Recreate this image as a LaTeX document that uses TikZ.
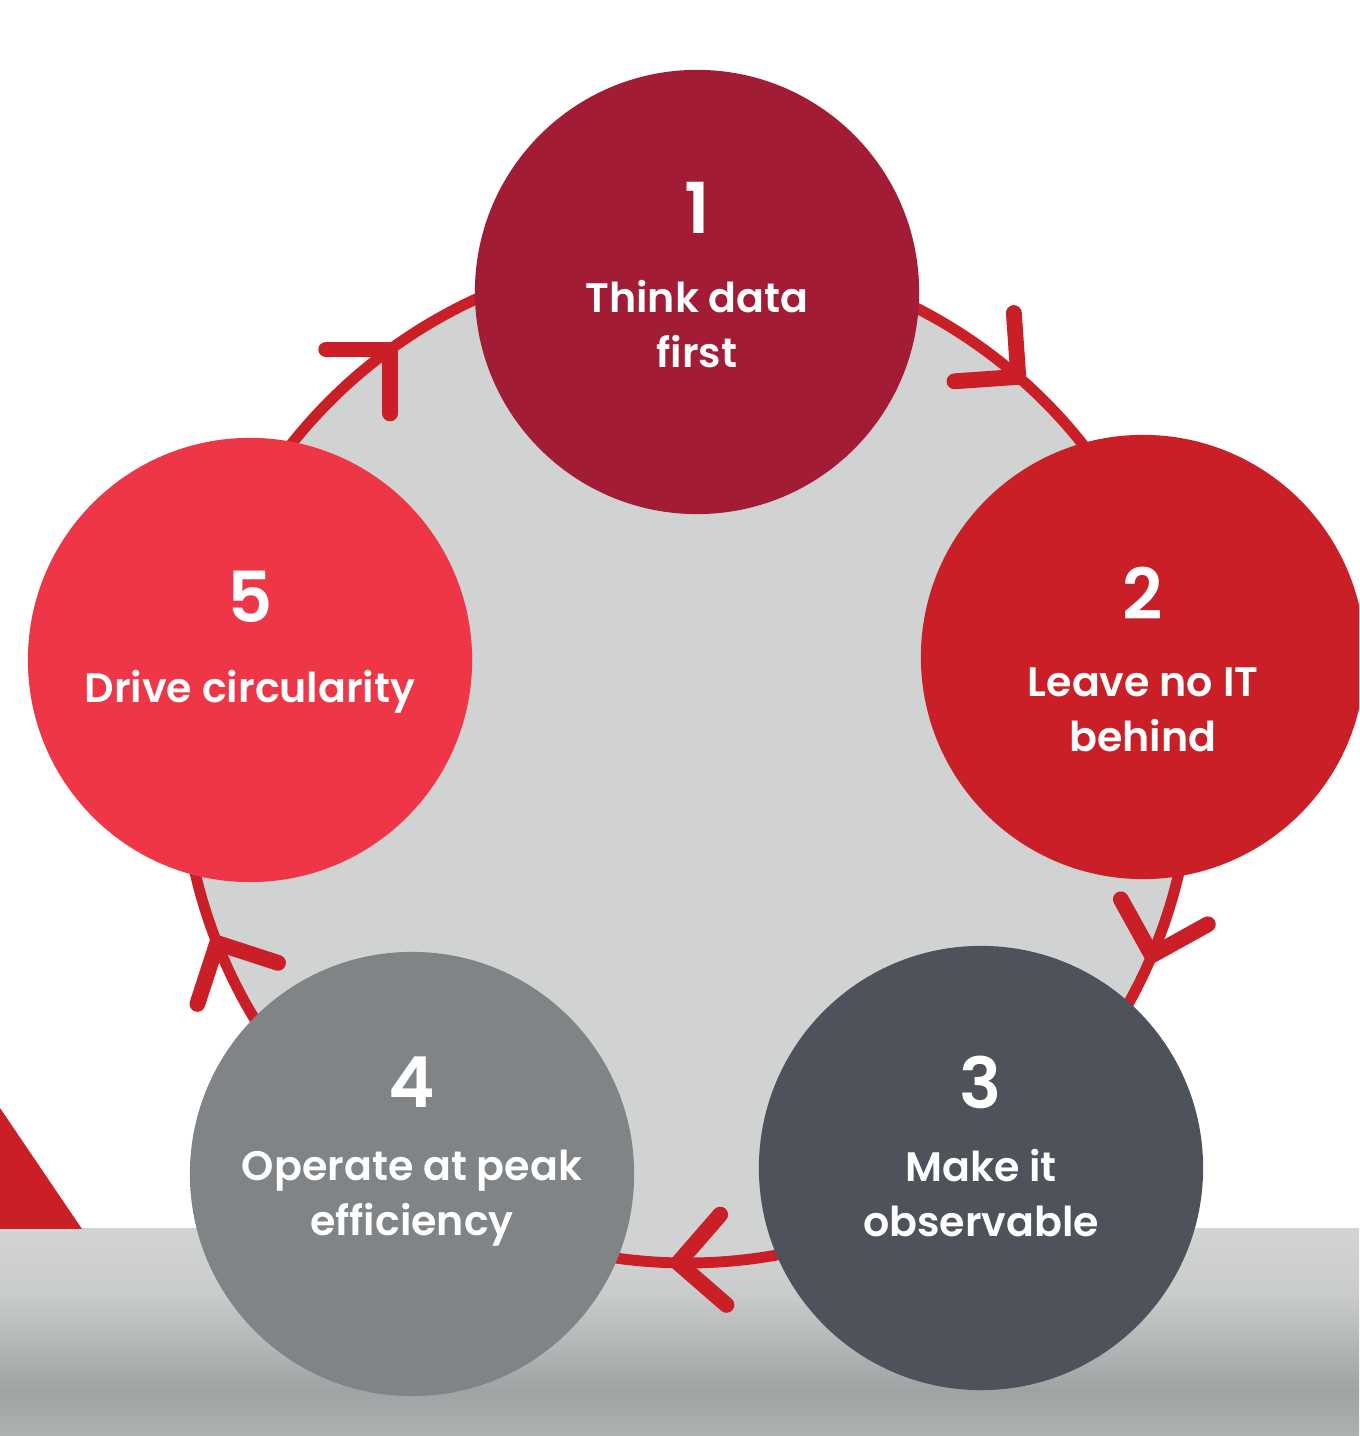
\documentclass[tikz,border=0pt]{standalone}
\usepackage{fontspec}
\setmainfont{Poppins SemiBold}
\usetikzlibrary{calc}

\definecolor{stepone}{HTML}{A31C36}
\definecolor{steptwo}{HTML}{CB1F28}
\definecolor{stepthree}{HTML}{4E525A}
\definecolor{stepfour}{HTML}{808486}
\definecolor{stepfive}{HTML}{EF3646}
\definecolor{ringred}{HTML}{CB1F28}
\definecolor{disk}{HTML}{D1D3D2}
\definecolor{floorlight}{HTML}{D2D4D3}
\definecolor{floormid}{HTML}{CBCDCD}
\definecolor{floordark}{HTML}{A0A3A4}
\definecolor{floorlow}{HTML}{AEB1B2}

\begin{document}
\begin{tikzpicture}[x=0.01cm, y=0.01cm,
  disc/.style={circle, inner sep=0pt, minimum size=4.44cm},
  num/.style={text=white, inner sep=0pt, font=\fontsize{20}{24}\selectfont},
  lbl/.style={text=white, inner sep=0pt, align=center, font=\fontsize{11.7}{15.5}\selectfont},
  chev/.style={draw=ringred, line width=4.5pt, line cap=round, line join=round}]
  \useasboundingbox (0,0) rectangle (1359,1436);
  \clip (0,0) rectangle (1359,1436);

  % floor band
  \fill[top color=floorlight, bottom color=floormid] (0,146) rectangle (1359,207);
  \fill[top color=floormid, bottom color=floordark] (0,46) rectangle (1359,146.5);
  \fill[top color=floordark, bottom color=floorlow] (0,0) rectangle (1359,46.5);
  \fill[ringred] (0,328) -- (82,207) -- (0,207) -- cycle;

  % ring
  \coordinate (ring) at (687,678);
  \draw[ringred, line width=3.1pt, fill=disk] (ring) circle (505);
  \foreach \a/\b in {126/225, 49/139, -23/74, -91/4, 201.5/-63} {
    \coordinate (tip) at ($(ring)+(\a:505)$);
    \draw[chev] ($(tip)+(\b+45:64)$) -- (tip) -- ($(tip)+(\b-45:64)$);
  }

  % steps
  \node[disc, fill=stepone]   (c1) at (697,1144) {};
  \node[disc, fill=steptwo]   (c2) at (1143,779) {};
  \node[disc, fill=stepthree] (c3) at (981,268) {};
  \node[disc, fill=stepfour]  (c4) at (412,262) {};
  \node[disc, fill=stepfive]  (c5) at (250,776) {};

  \node[num] (n1) at (697,1228) {1};
  \node[num] (n2) at (1143,843) {2};
  \node[num] (n3) at (981,354) {3};
  \node[num] (n4) at (412,354) {4};
  \node[num] (n5) at (250,839) {5};

  \node[lbl] (t1) at (697,1112) {Think data\\first};
  \node[lbl] (t2) at (1143,726) {Leave no IT\\behind};
  \node[lbl] (t3) at (981,243) {Make it\\observable};
  \node[lbl] (t4) at (412,238) {Operate at peak\\efficiency};
  \node[lbl] (t5) at (250,744) {Drive circularity};
\end{tikzpicture}
\end{document}
